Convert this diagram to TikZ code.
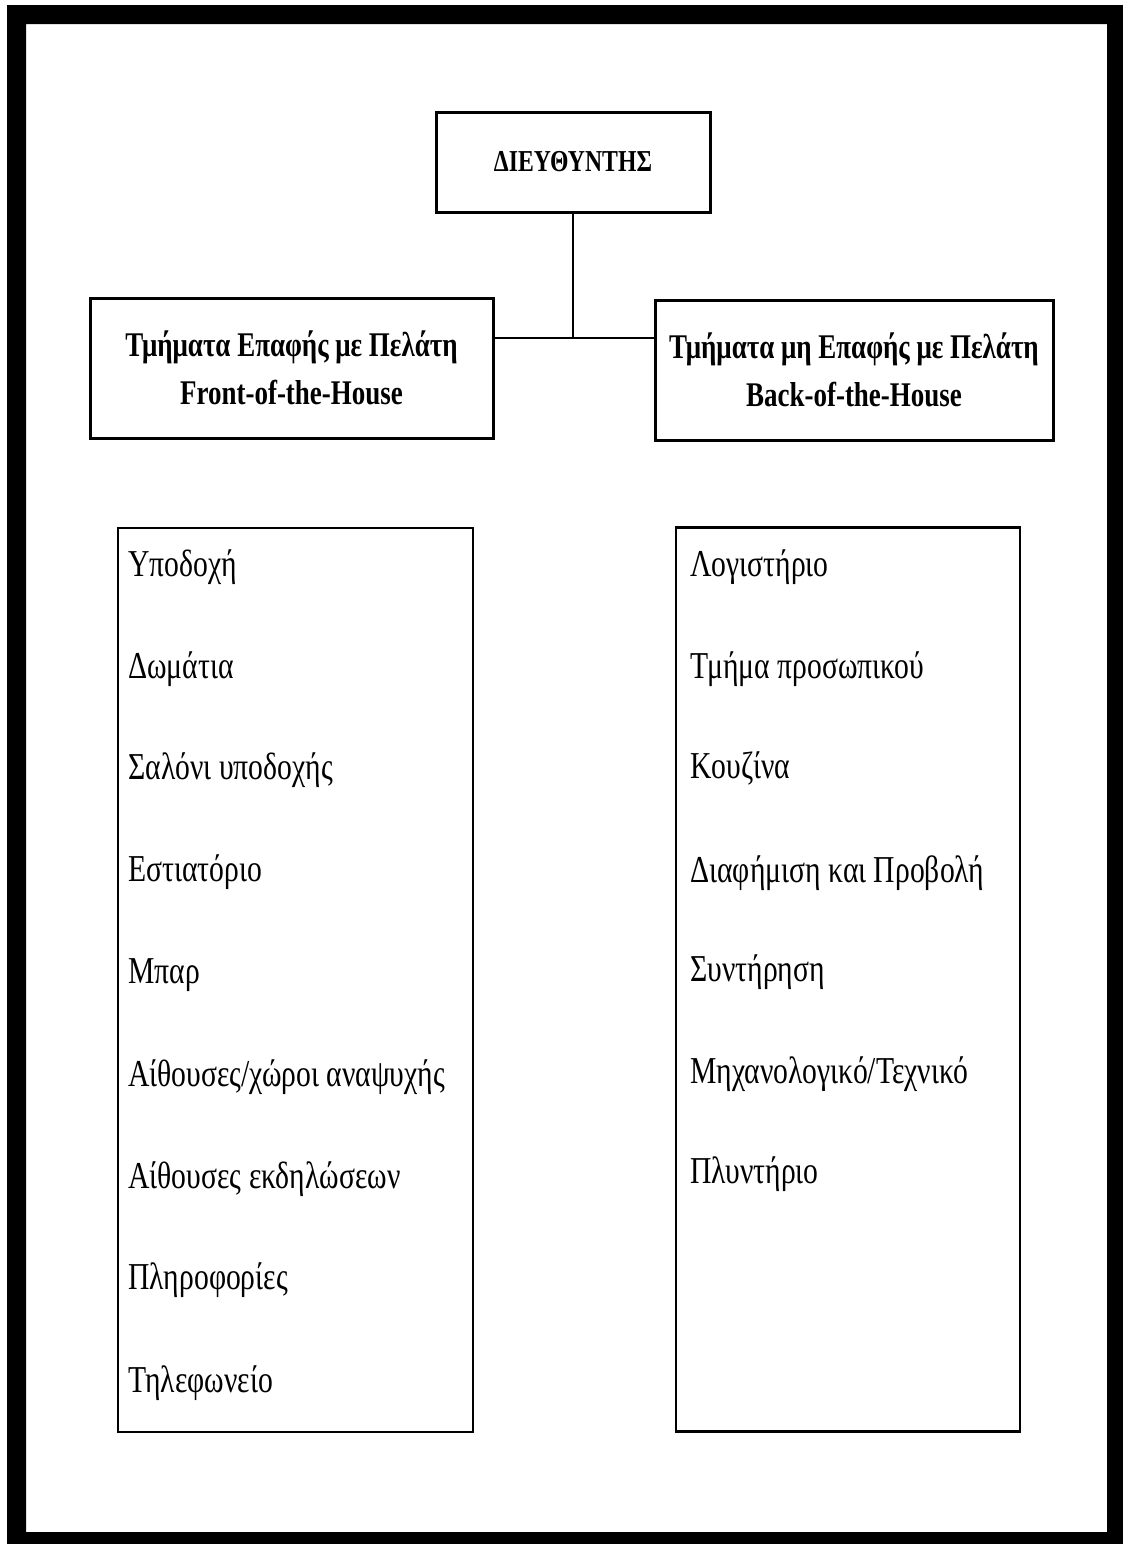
\documentclass[tikz,border=0pt]{standalone}
\usepackage{fontspec}
\setmainfont{Liberation Serif}[FakeStretch=0.78]

\begin{document}
\begin{tikzpicture}[x=0.5pt,y=-0.5pt,
                    boss/.style={draw,line width=1.5pt,minimum width=137pt,minimum height=50pt,
                                 font=\fontsize{15.2}{18}\selectfont\bfseries},
                    dept/.style={draw,line width=1.5pt,minimum height=70pt,align=center,inner sep=0pt,
                                 font=\fontsize{17.3}{24}\selectfont\bfseries},
                    unitlist/.style={draw,line width=1.3pt,minimum height=452pt},
                    entry/.style={anchor=base west,inner sep=0pt,font=\fontsize{19}{22}\selectfont}]
 \fill[white] (0,0) rectangle (1123,1544);
 \fill[black,even odd rule] (7,5) rectangle (1123,1544) (26,24) rectangle (1107,1532);
 \node[boss] (dir) at (573,162) {ΔΙΕΥΘΥΝΤΗΣ};
 \node[dept,minimum width=201.5pt] (front) at (291.5,368)
      {Τμήματα Επαφής με Πελάτη\\Front-of-the-House};
 \node[dept,minimum width=199pt] (back) at (854,370)
      {Τμήματα μη Επαφής με Πελάτη\\Back-of-the-House};
 \coordinate (joint) at (571,338);
 \draw[line width=1.3pt] (dir.south) -- (dir.south |- joint);
 \draw[line width=1.3pt] (front.east |- joint) -- (back.west |- joint);
 \node[unitlist,minimum width=177.5pt] (frontlist) at (295.5,980) {};
 \node[unitlist,minimum width=172pt] (backlist) at (848,979.5) {};
 \node[entry] (fh1) at (128,576)  {Υποδοχή};
 \node[entry] (fh2) at (128,678)  {Δωμάτια};
 \node[entry] (fh3) at (128,779)  {Σαλόνι υποδοχής};
 \node[entry] (fh4) at (128,881)  {Εστιατόριο};
 \node[entry] (fh5) at (128,983)  {Μπαρ};
 \node[entry] (fh6) at (128,1086) {Αίθουσες/χώροι αναψυχής};
 \node[entry] (fh7) at (128,1188) {Αίθουσες εκδηλώσεων};
 \node[entry] (fh8) at (128,1289) {Πληροφορίες};
 \node[entry] (fh9) at (128,1392) {Τηλεφωνείο};
 \node[entry] (bh1) at (690,576)  {Λογιστήριο};
 \node[entry] (bh2) at (690,678)  {Τμήμα προσωπικού};
 \node[entry] (bh3) at (690,778)  {Κουζίνα};
 \node[entry] (bh4) at (690,882)  {Διαφήμιση και Προβολή};
 \node[entry] (bh5) at (690,981)  {Συντήρηση};
 \node[entry] (bh6) at (690,1083) {Μηχανολογικό/Τεχνικό};
 \node[entry] (bh7) at (690,1183) {Πλυντήριο};
\end{tikzpicture}
\end{document}
